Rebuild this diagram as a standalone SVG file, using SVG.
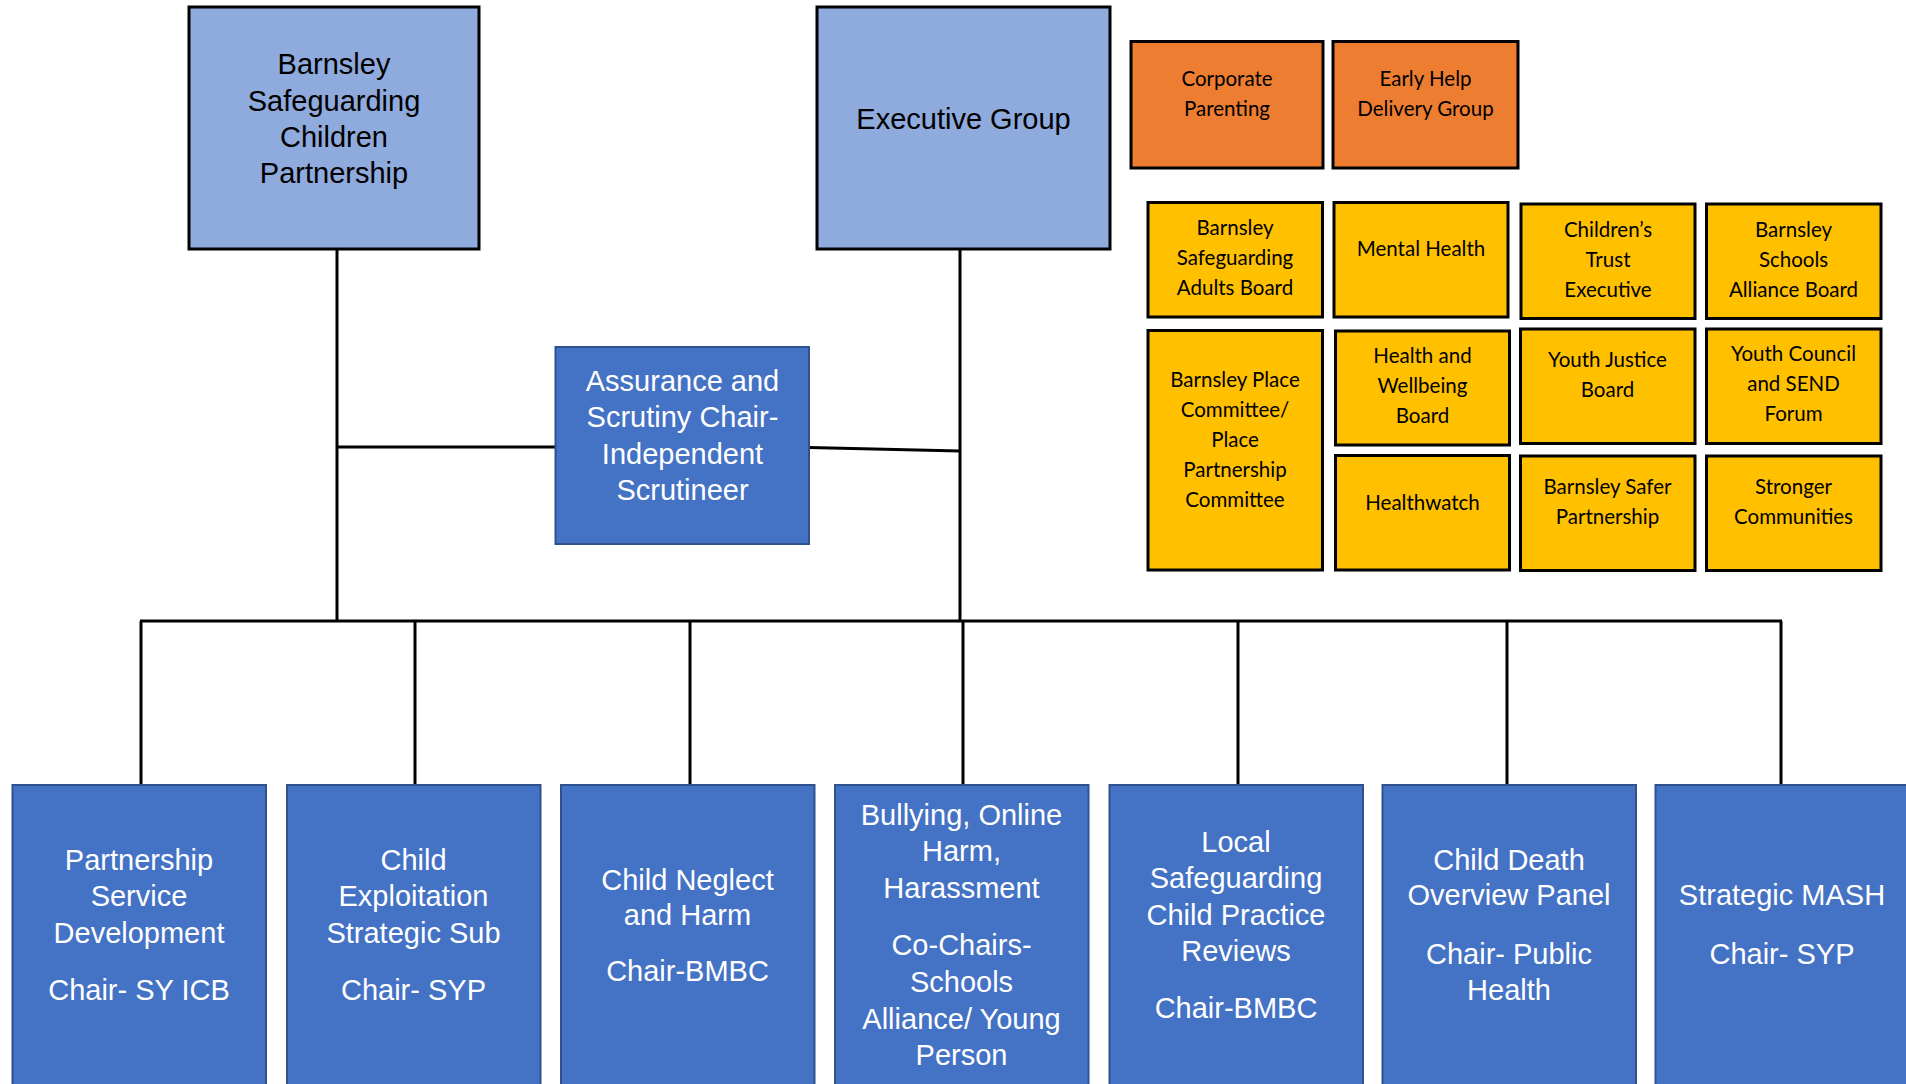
<svg xmlns="http://www.w3.org/2000/svg" width="1906" height="1084" viewBox="0 0 1906 1084">
<style>
.lb{fill:#8FAADC;stroke:#000;stroke-width:3}
.db{fill:#4472C4;stroke:#2F528F;stroke-width:2}
.or{fill:#ED7D31;stroke:#000;stroke-width:3}
.ye{fill:#FFC000;stroke:#000;stroke-width:3}
.ta{font-family:"Liberation Sans",Arial,sans-serif;font-size:29px;text-anchor:middle}
.tb{fill:#000}
.tw{fill:#fff}
.tc{font-family:Lato,"Open Sans",sans-serif;font-size:20.5px;text-anchor:middle;fill:#000}
.ln{stroke:#000;stroke-width:3;fill:none}
</style>
<rect width="1906" height="1084" fill="#fff"/>
<g id="connectors">
<line class="ln" x1="337" y1="249" x2="337" y2="621"/>
<line class="ln" x1="960" y1="249" x2="960" y2="621"/>
<line class="ln" x1="337" y1="447" x2="555" y2="447"/>
<line class="ln" x1="809" y1="447.5" x2="960" y2="451"/>
<line class="ln" x1="140" y1="621" x2="1782" y2="621"/>
<line class="ln" x1="141" y1="621" x2="141" y2="785"/>
<line class="ln" x1="415" y1="621" x2="415" y2="787"/>
<line class="ln" x1="690" y1="621" x2="690" y2="785"/>
<line class="ln" x1="963" y1="621" x2="963" y2="785"/>
<line class="ln" x1="1238" y1="621" x2="1238" y2="785"/>
<line class="ln" x1="1507" y1="621" x2="1507" y2="785"/>
<line class="ln" x1="1781" y1="621" x2="1781" y2="785"/>
</g>
<g id="bscp">
<rect class="lb" x="189" y="7" width="290" height="242"/>
<text class="ta tb"><tspan x="334" y="74">Barnsley</tspan><tspan x="334" y="110.5">Safeguarding</tspan><tspan x="334" y="146.5">Children</tspan><tspan x="334" y="183">Partnership</tspan></text>
</g>
<g id="exec">
<rect class="lb" x="817" y="7" width="293" height="242"/>
<text class="ta tb" x="963.5" y="128.5">Executive Group</text>
</g>
<g id="assurance">
<rect class="db" x="555.5" y="347" width="253.5" height="197"/>
<text class="ta tw"><tspan x="682.5" y="390.5">Assurance and</tspan><tspan x="682.5" y="427">Scrutiny Chair-</tspan><tspan x="682.5" y="463.5">Independent</tspan><tspan x="682.5" y="499.5">Scrutineer</tspan></text>
</g>
<g id="corporate-parenting">
<rect class="or" x="1131" y="41.5" width="192" height="126.5"/>
<text class="tc"><tspan x="1227" y="86">Corporate</tspan><tspan x="1227" y="116">Parenting</tspan></text>
</g>
<g id="early-help">
<rect class="or" x="1333" y="41.5" width="185" height="126.5"/>
<text class="tc"><tspan x="1425.5" y="86">Early Help</tspan><tspan x="1425.5" y="116">Delivery Group</tspan></text>
</g>
<g id="bsab">
<rect class="ye" x="1148" y="202.5" width="174.5" height="114.5"/>
<text class="tc"><tspan x="1235" y="235">Barnsley</tspan><tspan x="1235" y="265">Safeguarding</tspan><tspan x="1235" y="295">Adults Board</tspan></text>
</g>
<g id="mental-health">
<rect class="ye" x="1334" y="202.5" width="174" height="114.5"/>
<text class="tc" x="1421" y="256">Mental Health</text>
</g>
<g id="childrens-trust">
<rect class="ye" x="1521" y="204" width="174" height="114.5"/>
<text class="tc"><tspan x="1608" y="237">Children’s</tspan><tspan x="1608" y="267">Trust</tspan><tspan x="1608" y="297">Executive</tspan></text>
</g>
<g id="schools-alliance">
<rect class="ye" x="1706.5" y="204" width="174.5" height="114.5"/>
<text class="tc"><tspan x="1793.5" y="237">Barnsley</tspan><tspan x="1793.5" y="267">Schools</tspan><tspan x="1793.5" y="297">Alliance Board</tspan></text>
</g>
<g id="place-committee">
<rect class="ye" x="1148" y="330.5" width="174.5" height="239.5"/>
<text class="tc"><tspan x="1235" y="387">Barnsley Place</tspan><tspan x="1235" y="417">Committee/</tspan><tspan x="1235" y="447">Place</tspan><tspan x="1235" y="477">Partnership</tspan><tspan x="1235" y="507">Committee</tspan></text>
</g>
<g id="health-wellbeing">
<rect class="ye" x="1335.5" y="331" width="174" height="114"/>
<text class="tc"><tspan x="1422.5" y="363">Health and</tspan><tspan x="1422.5" y="393">Wellbeing</tspan><tspan x="1422.5" y="423">Board</tspan></text>
</g>
<g id="youth-justice">
<rect class="ye" x="1520.5" y="329" width="174.5" height="114.5"/>
<text class="tc"><tspan x="1607.5" y="367">Youth Justice</tspan><tspan x="1607.5" y="397">Board</tspan></text>
</g>
<g id="youth-council">
<rect class="ye" x="1706.5" y="329" width="174.5" height="114.5"/>
<text class="tc"><tspan x="1793.5" y="361">Youth Council</tspan><tspan x="1793.5" y="391">and SEND</tspan><tspan x="1793.5" y="421">Forum</tspan></text>
</g>
<g id="healthwatch">
<rect class="ye" x="1335.5" y="455.5" width="174" height="114.5"/>
<text class="tc" x="1422.5" y="509.5">Healthwatch</text>
</g>
<g id="safer-partnership">
<rect class="ye" x="1520.5" y="456" width="174.5" height="114.5"/>
<text class="tc"><tspan x="1607.5" y="494">Barnsley Safer</tspan><tspan x="1607.5" y="524">Partnership</tspan></text>
</g>
<g id="stronger-communities">
<rect class="ye" x="1706.5" y="456" width="174.5" height="114.5"/>
<text class="tc"><tspan x="1793.5" y="494">Stronger</tspan><tspan x="1793.5" y="524">Communities</tspan></text>
</g>
<g id="partnership-service">
<rect class="db" x="12.5" y="785" width="253.5" height="320"/>
<text class="ta tw"><tspan x="139" y="869.5">Partnership</tspan><tspan x="139" y="906">Service</tspan><tspan x="139" y="942.5">Development</tspan><tspan x="139" y="1000">Chair- SY ICB</tspan></text>
</g>
<g id="child-exploitation">
<rect class="db" x="287" y="785" width="253.5" height="320"/>
<text class="ta tw"><tspan x="413.5" y="869.5">Child</tspan><tspan x="413.5" y="906">Exploitation</tspan><tspan x="413.5" y="942.5">Strategic Sub</tspan><tspan x="413.5" y="1000">Chair- SYP</tspan></text>
</g>
<g id="child-neglect">
<rect class="db" x="561" y="785" width="253.5" height="320"/>
<text class="ta tw"><tspan x="687.5" y="889.5">Child Neglect</tspan><tspan x="687.5" y="925">and Harm</tspan><tspan x="687.5" y="980.5">Chair-BMBC</tspan></text>
</g>
<g id="bullying">
<rect class="db" x="835" y="785" width="253.5" height="320"/>
<text class="ta tw"><tspan x="961.5" y="824.5">Bullying, Online</tspan><tspan x="961.5" y="861">Harm,</tspan><tspan x="961.5" y="897.5">Harassment</tspan><tspan x="961.5" y="954.5">Co-Chairs-</tspan><tspan x="961.5" y="991.5">Schools</tspan><tspan x="961.5" y="1028.5">Alliance/ Young</tspan><tspan x="961.5" y="1065">Person</tspan></text>
</g>
<g id="lscpr">
<rect class="db" x="1109.5" y="785" width="253.5" height="320"/>
<text class="ta tw"><tspan x="1236" y="851.5">Local</tspan><tspan x="1236" y="888">Safeguarding</tspan><tspan x="1236" y="924.5">Child Practice</tspan><tspan x="1236" y="961">Reviews</tspan><tspan x="1236" y="1018">Chair-BMBC</tspan></text>
</g>
<g id="cdop">
<rect class="db" x="1382.5" y="785" width="253.5" height="320"/>
<text class="ta tw"><tspan x="1509" y="869.5">Child Death</tspan><tspan x="1509" y="905">Overview Panel</tspan><tspan x="1509" y="963.5">Chair- Public</tspan><tspan x="1509" y="1000">Health</tspan></text>
</g>
<g id="strategic-mash">
<rect class="db" x="1655.5" y="785" width="253.5" height="320"/>
<text class="ta tw"><tspan x="1782" y="905">Strategic MASH</tspan><tspan x="1782" y="963.5">Chair- SYP</tspan></text>
</g>
</svg>
